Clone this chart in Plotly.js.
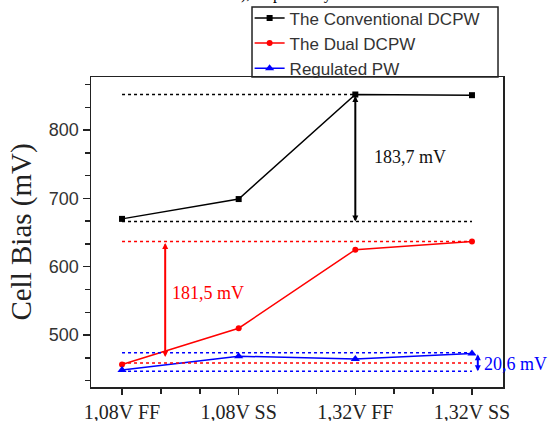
<!DOCTYPE html>
<html><head><meta charset="utf-8">
<script src="https://cdn.plot.ly/plotly-3.0.1.min.js"></script>
<style>html,body{margin:0;padding:0;background:#fff}#chart{width:551px;height:421px}</style>
</head><body><div id="chart"></div>
<script>
const categories = ['1,08V FF', '1,08V SS', '1,32V FF', '1,32V SS'];
const seriesNames = ['The Conventional DCPW', 'The Dual DCPW', 'Regulated PW'];
const conventional = [670, 699, 852, 851];
const dual = [457, 510, 625, 637];
const regulated = [449, 469, 465, 473];
const convRefs = [666, 852];
const dualRefs = [459, 637];
const regRefs = [447, 474];
const gapLabels = ['183,7 mV', '181,5 mV', '20,6 mV'];
const yTickVals = [500, 600, 700, 800];

const xIdx = categories.map((_, i) => i);
const colors = ['#000000', '#ff0000', '#0000ff'];
const symbols = ['square', 'circle', 'triangle-up'];
const msizes = [6, 6, 8];
const series = [conventional, dual, regulated];

const traces = series.map((s, i) => ({
  x: xIdx, y: s, type: 'scatter', mode: 'lines+markers', name: seriesNames[i],
  line: {color: colors[i], width: 1.5},
  marker: {symbol: symbols[i], size: msizes[i], color: colors[i]}
}));

const dot = (c, y, x1) => ({type: 'line', xref: 'x', yref: 'y', x0: 0, x1: x1, y0: y, y1: y,
  line: {color: c, width: 1.5, dash: 'dot'}});

const shapes = [
  dot(colors[0], convRefs[1], 2), dot(colors[0], convRefs[0], 3),
  dot(colors[1], dualRefs[1], 3), dot(colors[1], dualRefs[0], 3),
  dot(colors[2], regRefs[1], 3), dot(colors[2], regRefs[0], 3),
  {type: 'rect', xref: 'paper', yref: 'paper', x0: 0.3908, x1: 0.9879, y0: 1.0, y1: 1.2258,
   line: {color: '#222', width: 1.5}, fillcolor: 'rgba(0,0,0,0)'}
];

const arrow = (x, yHead, yTail, c) => ({x: x, y: yHead, ax: x, ay: yTail, xref: 'x', yref: 'y',
  axref: 'x', ayref: 'y', text: '', showarrow: true, arrowside: 'end+start', arrowhead: 2,
  arrowsize: 0.6, arrowwidth: 2, arrowcolor: c, standoff: 0, startstandoff: 0});

const serif = 'Liberation Serif, Times New Roman, serif';
const annotations = [
  arrow(2, convRefs[0], convRefs[1], colors[0]),
  arrow(0.37, 468, dualRefs[1], colors[1]),
  arrow(3.05, regRefs[0], regRefs[1], colors[2]),
  {x: 2.47, y: 760, xref: 'x', yref: 'y', text: gapLabels[0], showarrow: false,
   font: {family: serif, size: 18, color: '#111'}},
  {x: 0.74, y: 561, xref: 'x', yref: 'y', text: gapLabels[1], showarrow: false,
   font: {family: serif, size: 18, color: '#ff0000'}},
  {x: 3.09, y: 457, xref: 'x', yref: 'y', text: gapLabels[2], showarrow: false, xanchor: 'left',
   font: {family: serif, size: 18, color: '#0000ff'}},
  {x: 0.36, y: 1.231, xref: 'paper', yref: 'paper', text: '), respectively', showarrow: false,
   xanchor: 'left', yanchor: 'bottom', font: {family: serif, size: 16, color: '#000'}}
];

const layout = {
  width: 551, height: 421,
  margin: {l: 91, r: 48, t: 77, b: 34, autoexpand: false},
  paper_bgcolor: '#fff', plot_bgcolor: '#fff',
  showlegend: true,
  legend: {x: 0.385, y: 1.247, xanchor: 'left', yanchor: 'top', bgcolor: 'rgba(0,0,0,0)',
    borderwidth: 0, font: {family: 'Liberation Sans, Arial, sans-serif', size: 17, color: '#333'},
    itemwidth: 30, tracegroupgap: 0},
  xaxis: {range: [-0.266, 3.266], tickmode: 'array', tickvals: xIdx, ticktext: categories,
    ticks: 'outside', ticklen: 6, tickwidth: 1.5, tickcolor: '#222',
    showline: true, linecolor: '#222', linewidth: 1.5, mirror: true, showgrid: false, zeroline: false,
    tickfont: {family: serif, size: 20, color: '#222'},
    minor: {tickmode: 'linear', tick0: 0, dtick: 1/3, ticks: 'outside', ticklen: 5, tickwidth: 1.5, tickcolor: '#222', showgrid: false}},
  yaxis: {range: [424, 877.6], tickmode: 'array', tickvals: yTickVals,
    ticks: 'outside', ticklen: 7, tickwidth: 1.5, tickcolor: '#222',
    showline: true, linecolor: '#222', linewidth: 1.5, mirror: true, showgrid: false, zeroline: false,
    tickfont: {family: 'Liberation Sans, Arial, sans-serif', size: 18, color: '#333'},
    minor: {tickmode: 'linear', tick0: 500, dtick: 100/3, ticks: 'outside', ticklen: 5, tickwidth: 1.5, tickcolor: '#222', showgrid: false}},
  annotations: annotations, shapes: shapes
};
layout.yaxis.title = {text: 'Cell Bias (mV)', standoff: 8, font: {family: serif, size: 29, color: '#222'}};

Plotly.newPlot('chart', traces, layout, {displayModeBar: false, staticPlot: true});
</script>
</body></html>
